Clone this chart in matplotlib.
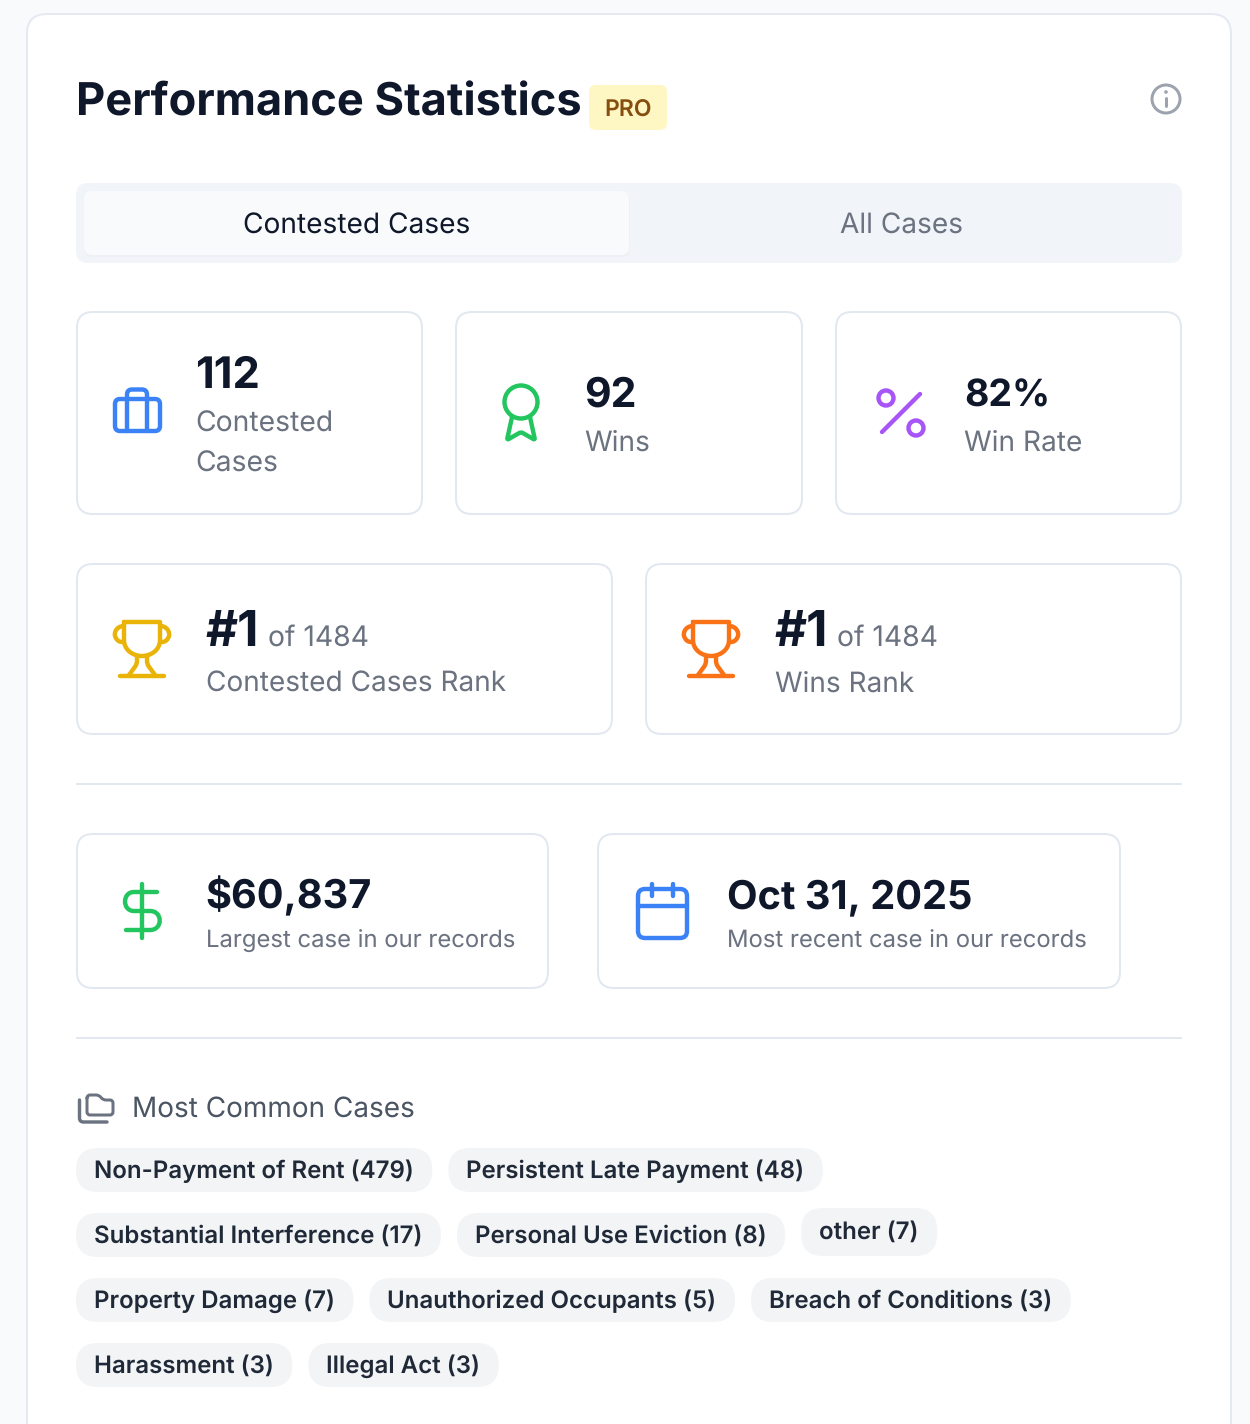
import numpy as np
import matplotlib
matplotlib.use("Agg")
import matplotlib.pyplot as plt
from matplotlib.patches import FancyBboxPatch, Circle, PathPatch
from matplotlib.path import Path

# ---- content ----
TITLE = "Performance Statistics"
BADGE = "PRO"
TABS = ["Contested Cases", "All Cases"]
TOP_VALUES = ["112", "92", "82%"]
TOP_LABELS = ["Contested\nCases", "Wins", "Win Rate"]
RANK_VALUES = ["#1", "#1"]
RANK_OF = ["of 1484", "of 1484"]
RANK_LABELS = ["Contested Cases Rank", "Wins Rank"]
FACT_VALUES = ["$60,837", "Oct 31, 2025"]
FACT_LABELS = ["Largest case in our records", "Most recent case in our records"]
SECTION = "Most Common Cases"
CASE_ROWS = [
    [("Non-Payment of Rent", 479), ("Persistent Late Payment", 48)],
    [("Substantial Interference", 17), ("Personal Use Eviction", 8), ("other", 7)],
    [("Property Damage", 7), ("Unauthorized Occupants", 5), ("Breach of Conditions", 3)],
    [("Harassment", 3), ("Illegal Act", 3)],
]

# ---- style ----
FONT = ["Inter", "DejaVu Sans"]
INK = "#0f172a"; GRAY = "#6b7280"; BORDER = "#e2e8f0"
BLUE = "#3b82f6"; GREEN = "#22c55e"; PURPLE = "#a855f7"; GOLD = "#eab308"; ORANGE = "#f97316"
PX = 0.72
W, H = 1250, 1424
ICON = 4.4

plt.rcParams["font.family"] = FONT
plt.rcParams["text.hinting"] = "none"
fig = plt.figure(figsize=(W / 100, H / 100), dpi=100, facecolor="#f8fafc")
ax = fig.add_axes([0, 0, 1, 1])
ax.set_xlim(0, W); ax.set_ylim(H, 0); ax.axis("off")


def box(x0, y0, x1, y1, r, fc="white", ec="none", lw=0, z=1):
    ax.add_patch(FancyBboxPatch((x0, y0), x1 - x0, y1 - y0, boxstyle=f"round,pad=0,rounding_size={r}",
                                fc=fc, ec=ec, lw=lw * PX, zorder=z))


def txt(x, y, s, px, color=INK, weight="normal", ha="left", **kw):
    return ax.text(x, y, s, fontsize=px * PX, color=color, fontweight=weight, ha=ha, va="baseline", zorder=5, **kw)


def rpoly(pts, r=0, closed=False):
    """Polyline through pts with rounded corners of radius r."""
    pts = [np.array(p, float) for p in pts]
    n = len(pts)
    verts, codes = [], []
    idx = range(n) if closed else range(1, n - 1)
    if not closed:
        verts.append(pts[0]); codes.append(Path.MOVETO)
    for i in idx:
        p, a, b = pts[i], pts[(i - 1) % n], pts[(i + 1) % n]
        rr = min(r, np.linalg.norm(a - p) / 2, np.linalg.norm(b - p) / 2)
        s = p + (a - p) / np.linalg.norm(a - p) * rr
        e = p + (b - p) / np.linalg.norm(b - p) * rr
        verts.append(s); codes.append(Path.MOVETO if (closed and not verts[:-1]) else Path.LINETO)
        verts += [p, e]; codes += [Path.CURVE3, Path.CURVE3]
    if closed:
        verts.append(verts[0]); codes.append(Path.LINETO)
    else:
        verts.append(pts[-1]); codes.append(Path.LINETO)
    return Path(verts, codes)


def stroke(path, color, lw=ICON):
    ax.add_patch(PathPatch(path, fc="none", ec=color, lw=lw * PX, capstyle="round", joinstyle="round", zorder=4))


def ring(x, y, r, color, lw=ICON):
    ax.add_patch(Circle((x, y), r, fc="none", ec=color, lw=lw * PX, zorder=4))


def trophy(dx, color):
    cup = Path([(124, 622), (124, 622), (124, 640), (124, 650), (133, 656), (142, 656),
                (151, 656), (160, 650), (160, 640), (160, 622), (124, 622)],
               [Path.MOVETO, Path.LINETO, Path.LINETO, Path.CURVE4, Path.CURVE4, Path.CURVE4,
                Path.CURVE4, Path.CURVE4, Path.CURVE4, Path.LINETO, Path.LINETO])
    stroke(Path(cup.vertices + [dx, 0], cup.codes), color)
    for pts in ([(137, 656), (137, 664), (129, 675)], [(147, 656), (147, 664), (155, 675)]):
        stroke(rpoly([(x + dx, y) for x, y in pts], 3), color)
    stroke(rpoly([(120 + dx, 676), (164 + dx, 676)]), color)
    for sgn in (-1, 1):
        cx = 142 + dx + sgn * 18
        hx = cx + sgn * 9
        stroke(Path([(cx, 626), (hx - sgn * 2, 626), (hx + sgn * 1, 632), (hx, 636), (hx - sgn * 2, 642), (cx + sgn * 2, 642)],
                    [Path.MOVETO, Path.CURVE4, Path.CURVE4, Path.LINETO, Path.CURVE3, Path.CURVE3]), color)


# ---- card ----
box(27, 14, 1231, 1500, 20, fc="white", ec="#e5e9f2", lw=2)
txt(76.5, 116, TITLE, 45.2, weight="bold")
box(589, 85, 667, 130, 7, fc="#fef6c3")
txt(628.5, 116.5, BADGE, 23, color="#854d0e", weight="semibold", ha="center")
ring(1166, 99, 14, "#9ca3af", 3)
stroke(rpoly([(1166, 98), (1166, 106)]), "#9ca3af", 3)
ax.add_patch(Circle((1166, 92), 1.8, fc="#9ca3af", ec="none", zorder=4))

# ---- tabs ----
box(76, 183, 1182, 263, 12, fc="#f1f5f9")
box(84, 193, 630, 257, 8, fc="#edf0f5", z=1.5)
box(84, 191, 629, 255, 8, fc="#f8fafc", z=2)
txt(356.5, 233.7, TABS[0], 28.1, ha="center")
txt(901.5, 233.7, TABS[1], 28.05, color=GRAY, ha="center")

# ---- top cards ----
for x0, x1 in [(77, 422), (456, 802), (836, 1181)]:
    box(x0, 312, x1, 514, 16, ec=BORDER, lw=2)
txt(195, 388, TOP_VALUES[0], 43.5, weight="bold")
for y, line in zip((432, 472), TOP_LABELS[0].split("\n")):
    txt(195.5, y, line, 28.3, color=GRAY)
txt(584.5, 407, TOP_VALUES[1], 41, weight="bold")
txt(584.5, 451, TOP_LABELS[1], 28.1, color=GRAY)
txt(964, 407, TOP_VALUES[2], 37.5, weight="bold")
txt(964.5, 451, TOP_LABELS[2], 28.1, color=GRAY)

stroke(rpoly([(115, 399), (160, 399), (160, 431), (115, 431)], 5, closed=True), BLUE)
stroke(rpoly([(127, 431), (127, 389.5), (147, 389.5), (147, 431)], 5), BLUE)
ring(521, 402, 16.5, GREEN)
stroke(rpoly([(512, 417), (507, 440), (521, 432), (535, 440), (530, 417)], 2), GREEN)
ring(886, 398, 7.5, PURPLE); ring(916, 428, 7.5, PURPLE)
stroke(rpoly([(882, 432), (920, 394)]), PURPLE)

# ---- rank cards ----
for (x0, x1), vx, ofx, val, of, lab in zip([(77, 612), (646, 1181)], (206, 775), (268, 837), RANK_VALUES, RANK_OF, RANK_LABELS):
    box(x0, 564, x1, 734, 16, ec=BORDER, lw=2)
    txt(vx - 0.5, 646, val, 49.5, weight="bold")
    txt(ofx, 646, of, 28.3, color=GRAY)
    txt(vx, 691.5, lab, 28, color=GRAY)
trophy(0, GOLD)
trophy(569, ORANGE)

ax.plot([76, 1182], [784, 784], color=BORDER, lw=2 * PX, zorder=1, solid_capstyle="butt")
ax.plot([76, 1182], [1038, 1038], color=BORDER, lw=2 * PX, zorder=1, solid_capstyle="butt")

# ---- fact cards ----
for (x0, x1), vx, val, lab in zip([(77, 548), (598, 1120)], (206, 727), FACT_VALUES, FACT_LABELS):
    box(x0, 834, x1, 988, 16, ec=BORDER, lw=2)
    txt(vx - 0.3, 908.5, val, 39.7, weight="bold")
    txt(vx, 947.7, lab, 23.85, color=GRAY)
stroke(rpoly([(142, 884), (142, 938)]), GREEN)
stroke(Path([(157, 892), (134, 892), (122, 892), (122, 911), (134, 911), (150, 911), (163, 911), (163, 930), (150, 930), (126, 930)],
            [Path.MOVETO, Path.LINETO, Path.CURVE4, Path.CURVE4, Path.CURVE4, Path.LINETO, Path.CURVE4, Path.CURVE4, Path.CURVE4, Path.LINETO]), GREEN)
stroke(rpoly([(638, 889), (687, 889), (687, 938), (638, 938)], 7, closed=True), BLUE)
stroke(rpoly([(638, 906), (687, 906)]), BLUE)
stroke(rpoly([(652, 884), (652, 896)]), BLUE)
stroke(rpoly([(673, 884), (673, 896)]), BLUE)

# ---- common cases ----
FOLDER = "#6b7280"
stroke(rpoly([(87, 1095), (99, 1095), (103, 1100), (113, 1100), (113, 1115), (87, 1115)], 3, closed=True), FOLDER, 3)
stroke(rpoly([(79.5, 1100), (79.5, 1122), (107, 1122)], 4), FOLDER, 3.4)
txt(132, 1117, SECTION, 27.95, color="#4b5563")

fig.canvas.draw()
rend = fig.canvas.get_renderer()
row_y = [1148, 1213, 1278, 1343]
for y0, row in zip(row_y, CASE_ROWS):
    x = 76
    for name, n in row:
        other = name == "other"
        top = y0 - 5 if other else y0
        t = txt(x + 18, top + (31 if other else 30), f"{name} ({n})", 24.05, color="#1f2937", weight="semibold")
        w = t.get_window_extent(rend).width
        box(x, top, x + w + 36.5, top + (48 if other else 44), 22, fc="#f3f4f6", z=3)
        x += w + 36.5 + 16

fig.savefig("out.png", dpi=100, facecolor=fig.get_facecolor())
